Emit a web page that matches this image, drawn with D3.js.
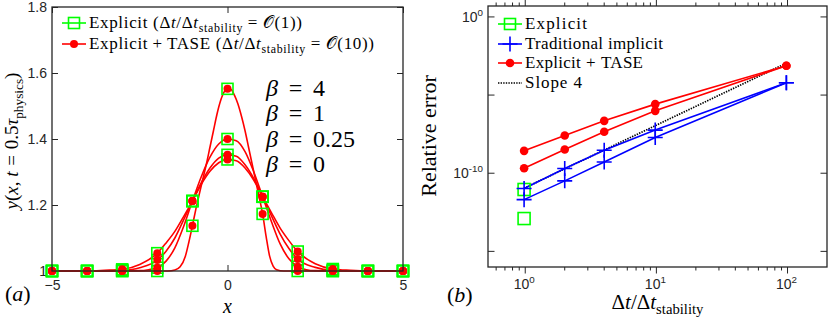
<!DOCTYPE html>
<html>
<head>
<meta charset="utf-8">
<script src="https://cdn.jsdelivr.net/npm/d3@7"></script>
<style>
  body { margin: 0; background: #fff; }
  svg { display: block; }
  .tick-label { font-family: "Liberation Sans", Arial, sans-serif; font-size: 14px; fill: #262626; }
  .serif { font-family: "Liberation Serif", "Times New Roman", serif; fill: #000; }
</style>
</head>
<body>
<svg id="chart" width="830" height="319"></svg>
<script>
// ---- panel (a): profiles ----
const markX = [-5, -4, -3, -2, -1, 0, 1, 2, 3, 4, 5];
const markB4   = [1, 1, 1, 1.0, 1.137, 1.552, 1.173, 1.0, 1, 1, 1];
const markB1   = [1, 1, 1, 1.010, 1.212, 1.400, 1.225, 1.013, 1, 1, 1];
const markB025 = [1, 1, 1.002, 1.033, 1.212, 1.352, 1.225, 1.036, 1.002, 1, 1];
const markB0   = [1, 1, 1.005, 1.054, 1.212, 1.338, 1.225, 1.059, 1.006, 1, 1];

const curveB4X = [-5, -2, -1.7, -1.5, -1.35, -1.2, -1.1, -1.0, -0.9, -0.8, -0.7, -0.6, -0.5, -0.4, -0.3, -0.2, -0.1, 0,
                  0.1, 0.2, 0.3, 0.4, 0.5, 0.6, 0.7, 0.8, 0.9, 1.0, 1.1, 1.2, 1.3, 1.4, 1.6, 2, 5];
const curveB4Y = [1, 1, 1.0, 1.003, 1.013, 1.045, 1.088, 1.137, 1.188, 1.235, 1.280, 1.325, 1.375, 1.425, 1.475, 1.515, 1.542, 1.552,
                  1.550, 1.532, 1.505, 1.468, 1.425, 1.375, 1.325, 1.275, 1.225, 1.173, 1.105, 1.045, 1.015, 1.004, 1.0, 1, 1];
const curveB1X = [-5, -3, -2.5, -2.25, -2, -1.75, -1.5, -1.25, -1, -0.75, -0.5, -0.25, 0,
                  0.25, 0.5, 0.75, 1, 1.25, 1.5, 1.75, 2, 2.25, 2.5, 3, 5];
const curveB1Y = [1, 1, 1.001, 1.004, 1.010, 1.030, 1.070, 1.135, 1.212, 1.285, 1.345, 1.385, 1.400,
                  1.395, 1.362, 1.300, 1.225, 1.150, 1.082, 1.037, 1.013, 1.004, 1.001, 1, 1];
const curveB025X = [-5, -4, -3.5, -3, -2.5, -2, -1.75, -1.5, -1.25, -1, -0.75, -0.5, -0.25, 0,
                    0.25, 0.5, 0.75, 1, 1.25, 1.5, 1.75, 2, 2.5, 3, 3.5, 4, 5];
const curveB025Y = [1, 1, 1.0005, 1.002, 1.010, 1.033, 1.060, 1.100, 1.155, 1.212, 1.267, 1.312, 1.342, 1.352,
                    1.348, 1.322, 1.280, 1.225, 1.168, 1.112, 1.068, 1.036, 1.011, 1.002, 1.0005, 1, 1];
const curveB0X = [-5, -4, -3.5, -3, -2.5, -2, -1.75, -1.5, -1.25, -1, -0.75, -0.5, -0.25, 0,
                  0.25, 0.5, 0.75, 1, 1.25, 1.5, 1.75, 2, 2.5, 3, 3.5, 4, 5];
const curveB0Y = [1, 1, 1.002, 1.005, 1.020, 1.054, 1.085, 1.120, 1.165, 1.212, 1.262, 1.302, 1.328, 1.338,
                  1.334, 1.312, 1.275, 1.225, 1.177, 1.130, 1.092, 1.059, 1.022, 1.006, 1.002, 1, 1];

const aYTicks = [1, 1.2, 1.4, 1.6, 1.8];
const aYTickLabels = ["1", "1.2", "1.4", "1.6", "1.8"];
const aXTicks = [-5, 0, 5];
const betaLabels = ["4", "1", "0.25", "0"];

// ---- panel (b): convergence ----
const dtRatio = [0.98, 2, 4, 9.8, 98];
const explicitX = [0.98, 0.98];
const explicitErr = [9.1e-12, 1.26e-13];
const implicitA = [1.05e-11, 2.0e-10, 2.95e-9, 5.75e-8, 6.2e-5];
const implicitB = [2.04e-12, 3.24e-11, 5.25e-10, 1.95e-8, 6.2e-5];
const taseA = [2.7e-9, 2.6e-8, 2.24e-7, 2.63e-6, 7.6e-4];
const taseB = [2.1e-10, 3.3e-9, 4.47e-8, 9.8e-7, 7.6e-4];
const slope4X = [0.98, 98];
const slope4Y = [1.1e-11, 1.1e-3];

const bXTicks = [1, 10, 100];
const bYTicks = [1, 1e-5, 1e-10, 1e-15];
const bYLabelled = [0, -10];

const RED = "#ff0000", BLUE = "#0000ff", GREEN = "#00ff00", AX = "#262626";

const svg = d3.select("#chart");

// text with italic / sub / sup pieces; "wide" pieces get math spacing on both sides
function rich(g, x, y, parts, size, opts = {}) {
  const t = g.append("text").attr("class", opts.cls || "serif").attr("x", x).attr("y", y)
    .attr("font-size", size).attr("text-anchor", opts.anchor || "start");
  if (opts.transform) t.attr("transform", opts.transform);
  let shift = 0, pad = 0;
  parts.forEach(p => {
    const want = p.sub ? size * 0.24 : (p.sup ? -size * 0.42 : 0);
    const ts = t.append("tspan").attr("dy", want - shift).text(p.t);
    const gap = p.wide ? size * p.wide : 0;
    if (pad + gap) ts.attr("dx", pad + gap);
    pad = gap;
    if (p.sub || p.sup) ts.style("font-size", (size * 0.7) + "px");
    if (p.i) ts.attr("font-style", "italic");
    shift = want;
  });
  if (opts.width) t.attr("textLength", opts.width).attr("lengthAdjust", "spacing");
  return t;
}

function frame(g, x0, x1, y0, y1) {
  g.append("rect").attr("x", x0).attr("y", y0).attr("width", x1 - x0).attr("height", y1 - y0)
    .attr("fill", "none").attr("stroke", AX).attr("stroke-width", 1.3);
}

function square(g, cx, cy, s) {
  g.append("rect").attr("x", cx - s / 2).attr("y", cy - s / 2).attr("width", s).attr("height", s)
    .attr("fill", "none").attr("stroke", GREEN).attr("stroke-width", 1.6);
}
function dot(g, cx, cy, r) {
  g.append("circle").attr("cx", cx).attr("cy", cy).attr("r", r).attr("fill", RED);
}
function plus(g, cx, cy, s) {
  g.append("path").attr("d", `M${cx - s},${cy}H${cx + s}M${cx},${cy - s}V${cy + s}`)
    .attr("stroke", BLUE).attr("stroke-width", 1.6).attr("fill", "none");
}

// ================= panel (a) =================
const A = { x0: 52, x1: 403, y0: 7, y1: 271 };
const xa = d3.scaleLinear().domain([-5, 5]).range([A.x0, A.x1]);
const ya = d3.scaleLinear().domain([1, 1.8]).range([A.y1, A.y0]);
const ga = svg.append("g");

function styleAxis(s) {
  s.select(".domain").remove();
  s.selectAll("line").attr("stroke", AX);
  s.selectAll("text").attr("class", "tick-label").attr("font-family", null).attr("font-size", null).attr("fill", null);
}

// axes: inward ticks on all sides
ga.append("g").attr("transform", `translate(0,${A.y1})`)
  .call(d3.axisBottom(xa).tickValues(aXTicks).tickSizeInner(-6).tickSizeOuter(0).tickPadding(9).tickFormat(d3.format("d")))
  .call(styleAxis);
ga.append("g").attr("transform", `translate(0,${A.y0})`)
  .call(d3.axisTop(xa).tickValues(aXTicks).tickSizeInner(-6).tickSizeOuter(0).tickFormat(""))
  .call(styleAxis);
ga.append("g").attr("transform", `translate(${A.x0},0)`)
  .call(d3.axisLeft(ya).tickValues(aYTicks).tickSizeInner(-6).tickSizeOuter(0).tickPadding(5)
    .tickFormat((d, i) => aYTickLabels[i]))
  .call(styleAxis);
ga.append("g").attr("transform", `translate(${A.x1},0)`)
  .call(d3.axisRight(ya).tickValues(aYTicks).tickSizeInner(-6).tickSizeOuter(0).tickFormat(""))
  .call(styleAxis);

// curves
const lineA = d3.line().x(d => xa(d[0])).y(d => ya(d[1])).curve(d3.curveMonotoneX);
const curves = [[curveB0X, curveB0Y], [curveB025X, curveB025Y], [curveB1X, curveB1Y], [curveB4X, curveB4Y]];
svg.append("clipPath").attr("id", "clipA").append("rect")
  .attr("x", A.x0).attr("y", A.y0).attr("width", A.x1 - A.x0).attr("height", A.y1 - A.y0 + 1);
curves.forEach(([cx, cy]) => {
  ga.append("path").datum(cx.map((v, i) => [v, cy[i]]))
    .attr("d", lineA).attr("fill", "none").attr("stroke", RED).attr("stroke-width", 1.6)
    .attr("clip-path", "url(#clipA)");
});

const marks = [markB0, markB025, markB1, markB4];
marks.forEach(m => m.forEach((v, i) => square(ga, xa(markX[i]), ya(v), 11)));
marks.forEach(m => m.forEach((v, i) => dot(ga, xa(markX[i]), ya(v), 4)));

frame(ga, A.x0, A.x1, A.y0, A.y1);

// legend (a)
const legA = ga.append("g");
const legAy = [23, 44];
legA.append("line").attr("x1", 62).attr("x2", 86).attr("y1", legAy[0]).attr("y2", legAy[0]).attr("stroke", GREEN).attr("stroke-width", 1.6);
square(legA, 74, legAy[0], 11);
legA.append("line").attr("x1", 62).attr("x2", 86).attr("y1", legAy[1]).attr("y2", legAy[1]).attr("stroke", RED).attr("stroke-width", 1.6);
dot(legA, 74, legAy[1], 4);
rich(legA, 89, legAy[0] + 5, [{ t: "Explicit (Δ" }, { t: "t", i: true }, { t: "/Δ" }, { t: "t", i: true },
  { t: "stability", sub: true }, { t: "=", wide: 0.28 }, { t: "𝒪(1))" }], 17, { width: 213 });
rich(legA, 89, legAy[1] + 5, [{ t: "Explicit" }, { t: "+", wide: 0.25 }, { t: "TASE (Δ" }, { t: "t", i: true }, { t: "/Δ" }, { t: "t", i: true },
  { t: "stability", sub: true }, { t: "=", wide: 0.28 }, { t: "𝒪(10))" }], 17, { width: 285 });

// beta annotations
const betaY = [96, 121, 147, 172];
betaLabels.forEach((b, i) => {
  rich(ga, 266, betaY[i], [{ t: "β", i: true }, { t: "=", wide: 0.45 }, { t: b }], 24);
});

// labels
rich(ga, xa(0), 313, [{ t: "x", i: true }], 20, { anchor: "middle" });
rich(svg, 5, 301, [{ t: "(" }, { t: "a", i: true }, { t: ")" }], 22);
rich(svg, 0, 0, [{ t: "y", i: true }, { t: "(" }, { t: "x", i: true }, { t: ", " }, { t: "t", i: true }, { t: "=", wide: 0.3 }, { t: "0.5" },
  { t: "τ", i: true }, { t: "physics", sub: true }, { t: ")" }], 19,
  { anchor: "middle", transform: `translate(18,141) rotate(-90)` });

// ================= panel (b) =================
const B = { x0: 488, x1: 827, y0: 6, y1: 267 };
const xb = d3.scaleLog().domain([0.52, 200]).range([B.x0, B.x1]);
const yb = d3.scaleLog().domain([1e-16, 5]).range([B.y1, B.y0]);
const gb = svg.append("g");

const minorX = [];
[0.1, 1, 10, 100].forEach(dec => { for (let k = 2; k <= 9; k++) { const v = dec * k; if (v > 0.52 && v < 200) minorX.push(v); } });

[[B.y1, -1], [B.y0, 1]].forEach(([yy, dir]) => {
  gb.selectAll(null).data(minorX).enter().append("line")
    .attr("x1", d => xb(d)).attr("x2", d => xb(d)).attr("y1", yy).attr("y2", yy - dir * 3.5).attr("stroke", AX);
  gb.selectAll(null).data(bXTicks).enter().append("line")
    .attr("x1", d => xb(d)).attr("x2", d => xb(d)).attr("y1", yy).attr("y2", yy - dir * 6.5).attr("stroke", AX);
});
[[B.x0, 1], [B.x1, -1]].forEach(([xx, dir]) => {
  gb.selectAll(null).data(bYTicks).enter().append("line")
    .attr("x1", xx).attr("x2", xx + dir * 6.5).attr("y1", d => yb(d)).attr("y2", d => yb(d)).attr("stroke", AX);
});

// tick labels (10^n)
bXTicks.forEach(v => {
  rich(gb, xb(v) - 1, 289, [{ t: "10" }, { t: String(Math.round(Math.log10(v))), sup: true }], 14, { anchor: "middle", cls: "tick-label" });
});
bYLabelled.forEach(p => {
  rich(gb, B.x0 - 5, yb(Math.pow(10, p)) + 5, [{ t: "10" }, { t: p === 0 ? "0" : "-" + Math.abs(p), sup: true }], 14, { anchor: "end", cls: "tick-label" });
});

// series
const lineB = d3.line().x(d => xb(d[0])).y(d => yb(d[1]));
function seriesB(xs, ys, color, dash, width) {
  gb.append("path").datum(xs.map((v, i) => [v, ys[i]])).attr("d", lineB)
    .attr("fill", "none").attr("stroke", color).attr("stroke-width", width || 1.6)
    .attr("stroke-dasharray", dash || null);
}
seriesB(slope4X, slope4Y, "#000", "1.4,1.2", 1.7);
[implicitA, implicitB].forEach(s => seriesB(dtRatio, s, BLUE));
[taseA, taseB].forEach(s => seriesB(dtRatio, s, RED));
explicitErr.forEach((v, i) => square(gb, xb(explicitX[i]), yb(v), 12));
[implicitA, implicitB].forEach(s => s.forEach((v, i) => plus(gb, xb(dtRatio[i]), yb(v), 7.5)));
[taseA, taseB].forEach(s => s.forEach((v, i) => dot(gb, xb(dtRatio[i]), yb(v), 4.3)));

frame(gb, B.x0, B.x1, B.y0, B.y1);

// legend (b)
const legB = gb.append("g");
const legBy = [24, 44, 63, 83];
const legBparts = [
  [{ t: "Explicit" }],
  [{ t: "Traditional implicit" }],
  [{ t: "Explicit" }, { t: "+", wide: 0.3 }, { t: "TASE" }],
  [{ t: "Slope 4" }]
];
const legBwidth = [62, 138, 118, 57];
const legBcol = [GREEN, BLUE, RED, "#000"];
legBy.forEach((yy, i) => {
  legB.append("line").attr("x1", 498).attr("x2", 522).attr("y1", yy).attr("y2", yy)
    .attr("stroke", legBcol[i]).attr("stroke-width", i === 3 ? 1.7 : 1.6)
    .attr("stroke-dasharray", i === 3 ? "1.4,1.2" : null);
  rich(legB, 525, yy + 5, legBparts[i], 17, { width: legBwidth[i] });
});
square(legB, 510, legBy[0], 11);
plus(legB, 510, legBy[1], 7.5);
dot(legB, 510, legBy[2], 4.3);

// labels
rich(gb, (B.x0 + B.x1) / 2, 309, [{ t: "Δ" }, { t: "t", i: true }, { t: "/Δ" }, { t: "t", i: true }, { t: "stability", sub: true }], 21, { anchor: "middle" });
rich(svg, 447, 302, [{ t: "(" }, { t: "b", i: true }, { t: ")" }], 22);
rich(svg, 0, 0, [{ t: "Relative error" }], 22, { anchor: "middle", transform: `translate(436,136) rotate(-90)` });
</script>
</body>
</html>
